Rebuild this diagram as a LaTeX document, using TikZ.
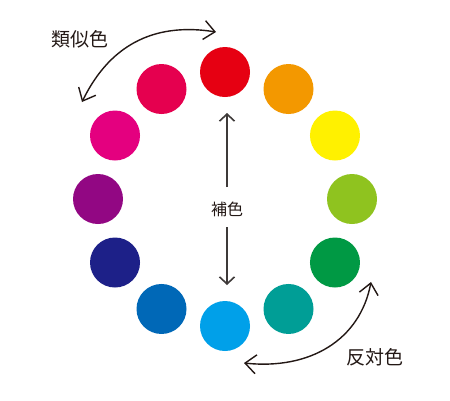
\documentclass[tikz,border=0pt]{standalone}
\usepackage{fontspec}
\newfontfamily\jp{Noto Sans CJK JP}
\usetikzlibrary{arrows.meta}
\definecolor{ink}{HTML}{231815}
\definecolor{inkg}{HTML}{3E3A39}
\definecolor{c0}{HTML}{E60012}
\definecolor{c1}{HTML}{F39800}
\definecolor{c2}{HTML}{FFF100}
\definecolor{c3}{HTML}{8FC31F}
\definecolor{c4}{HTML}{009944}
\definecolor{c5}{HTML}{009E96}
\definecolor{c6}{HTML}{00A0E9}
\definecolor{c7}{HTML}{0068B7}
\definecolor{c8}{HTML}{1D2088}
\definecolor{c9}{HTML}{920783}
\definecolor{c10}{HTML}{E4007F}
\definecolor{c11}{HTML}{E5004F}
\begin{document}
\begin{tikzpicture}[x=1pt,y=-1pt,
  dot/.style={circle,minimum size=50pt,inner sep=0pt,draw=none},
  biglbl/.style={font=\jp\fontsize{19}{19}\selectfont,text=ink,inner sep=0pt},
  smalllbl/.style={font=\jp\fontsize{16}{16}\selectfont,text=ink,inner sep=0pt},
  arcline/.style={draw=ink,line width=1.4pt,line cap=round,
    {Straight Barb[length=11pt,width=19pt]}-{Straight Barb[length=11pt,width=19pt]}},
  vline/.style={draw=inkg,line width=1.6pt,-{Straight Barb[length=7pt,width=15pt]}},
]
\useasboundingbox (0,0) rectangle (450,400);
\fill[white] (0,0) rectangle (450,400);
\foreach \k in {0,...,11}{
  \pgfmathsetmacro{\ang}{90-30*\k}
  \node[dot,fill=c\k] (c\k) at ({225+127*cos(\ang)},{199-127*sin(\ang)}) {};
}
% labels
\node[biglbl] (sim) at (80,39) {類似色};
\node[biglbl] (opp) at (375,357) {反対色};
\node[smalllbl] (comp) at (227,209.5) {補色};
% analogous arc
\coordinate (s1) at (82,102);
\coordinate (s2) at (216,32);
\draw[arcline] (s1) .. controls (112,40) and (160,23) .. (s2);
% opposite arc
\coordinate (o1) at (244,363);
\coordinate (o2) at (371,282);
\draw[arcline] (o1) .. controls (310,370) and (360,340) .. (o2);
% complementary arrows
\coordinate (ta) at (227,187);
\coordinate (tb) at (227,113);
\coordinate (ba) at (227,227);
\coordinate (bb) at (227,285);
\draw[vline] (ta) -- (tb);
\draw[vline] (ba) -- (bb);
\end{tikzpicture}
\end{document}
